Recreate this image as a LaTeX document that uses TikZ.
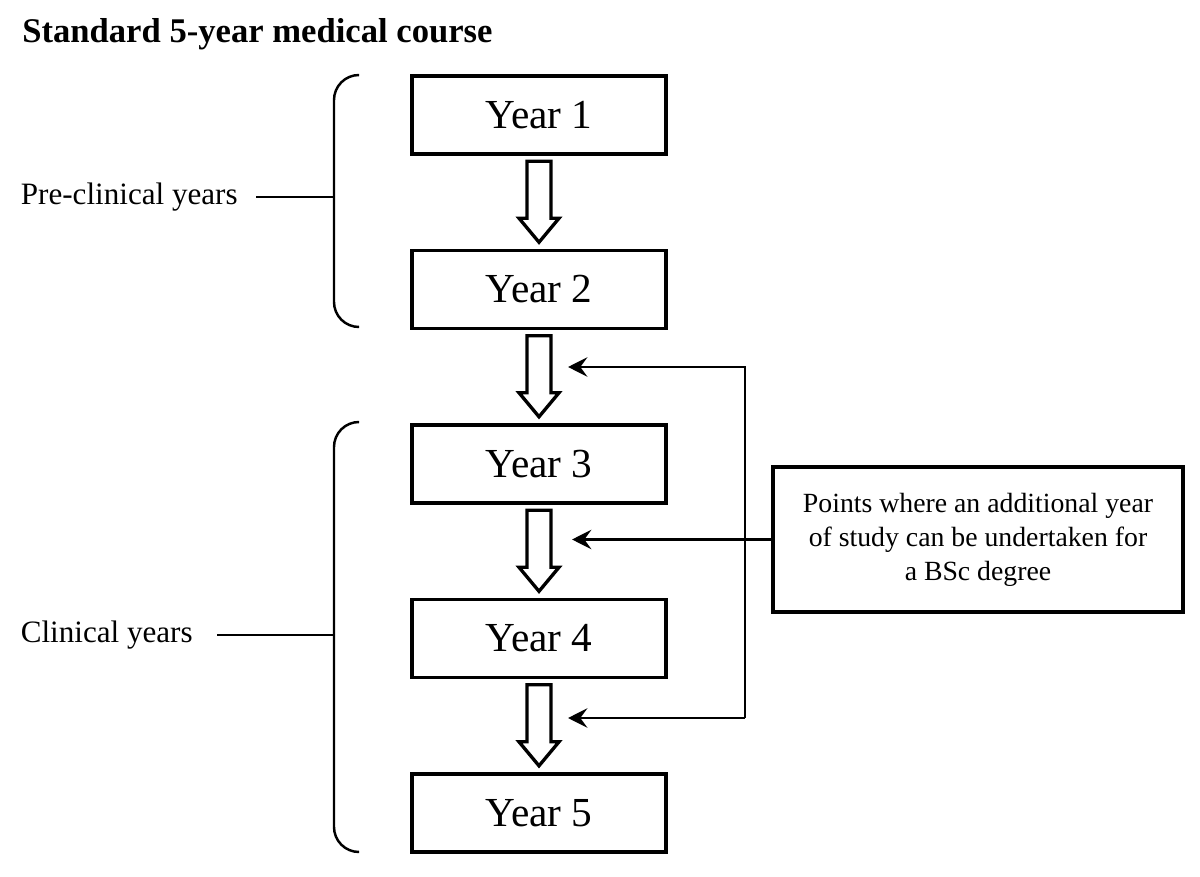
\documentclass[tikz,border=0pt]{standalone}
\usepackage{fontspec}
\setmainfont{Liberation Serif}
\usetikzlibrary{arrows.meta,positioning,calc}

\begin{document}
\begin{tikzpicture}[
      every node/.append style={font=\fontsize{17.7}{21}\selectfont},
      year/.style={draw, line width=2pt, minimum width=5.08cm, minimum height=1.56cm,
        font=\fontsize{23.5}{28}\selectfont},
      side/.style={anchor=east, inner sep=0pt},
      bigarrow/.style={draw, line width=1.9pt, line join=miter},
      feed/.style={line width=1.4pt, -{Stealth[length=11pt,width=11pt,inset=4pt]}},
      brace/.style={line width=1.4pt, rounded corners=0.5cm}]
    \useasboundingbox (0,0) rectangle (24,17.52);
    \node [anchor=base west, inner sep=0pt, font=\fontsize{19.7}{24}\selectfont\bfseries] (title) at (0.44,16.66) {Standard 5-year medical course};
    % the five years
    \node [year] (y1) at (10.78,15.22) {Year 1};
    \node [year, below=1.86cm of y1] (y2) {Year 2};
    \node [year, below=1.86cm of y2] (y3) {Year 3};
    \node [year, below=1.86cm of y3] (y4) {Year 4};
    \node [year, below=1.86cm of y4] (y5) {Year 5};
    \foreach \a in {y1,y2,y3,y4}
      \draw [bigarrow] ($(\a.south)+(-0.24,-0.11)$) -- ++(0,-1.14) -- ++(-0.16,0) -- ++(0.4,-0.48)
        -- ++(0.4,0.48) -- ++(-0.16,0) -- ++(0,1.14) -- cycle;
    % brackets on the left
    \draw [brace] (7.16,16.02) -- (6.68,16.02) -- (6.68,10.98) -- (7.16,10.98);
    \draw [brace] (7.16,9.08) -- (6.68,9.08) -- (6.68,0.48) -- (7.16,0.48);
    \coordinate (prebr) at (6.68,13.58);
    \coordinate (clinbr) at (6.68,4.82);
    \node [side] (pre) at (4.76,13.58) {Pre-clinical years};
    \node [side] (clin) at (3.86,4.82) {Clinical years};
    \draw [line width=1.4pt] (pre.east) ++(0.36,0) -- (prebr);
    \draw [line width=1.4pt] (clin.east) ++(0.48,0) -- (clinbr);
    % BSc box and its arrows
    \node [draw, line width=2pt, minimum width=8.2cm, minimum height=2.9cm, align=center,
      font=\fontsize{15.8}{19.3}\selectfont] (bsc) at (19.56,6.73)
      {Points where an additional year\\ of study can be undertaken for\\ a BSc degree};
    \coordinate (top) at (14.9,10.18);
    \coordinate (bot) at (14.9,3.16);
    \coordinate (in2) at (11.36,10.18);
    \coordinate (in3) at (11.44,6.73);
    \coordinate (in4) at (11.36,3.16);
    \draw [feed] (bot) -- (top) -- (in2);
    \draw [feed] (bot) -- (in4);
    \draw [feed] (bsc.west) -- (in3);
\end{tikzpicture}
\end{document}
